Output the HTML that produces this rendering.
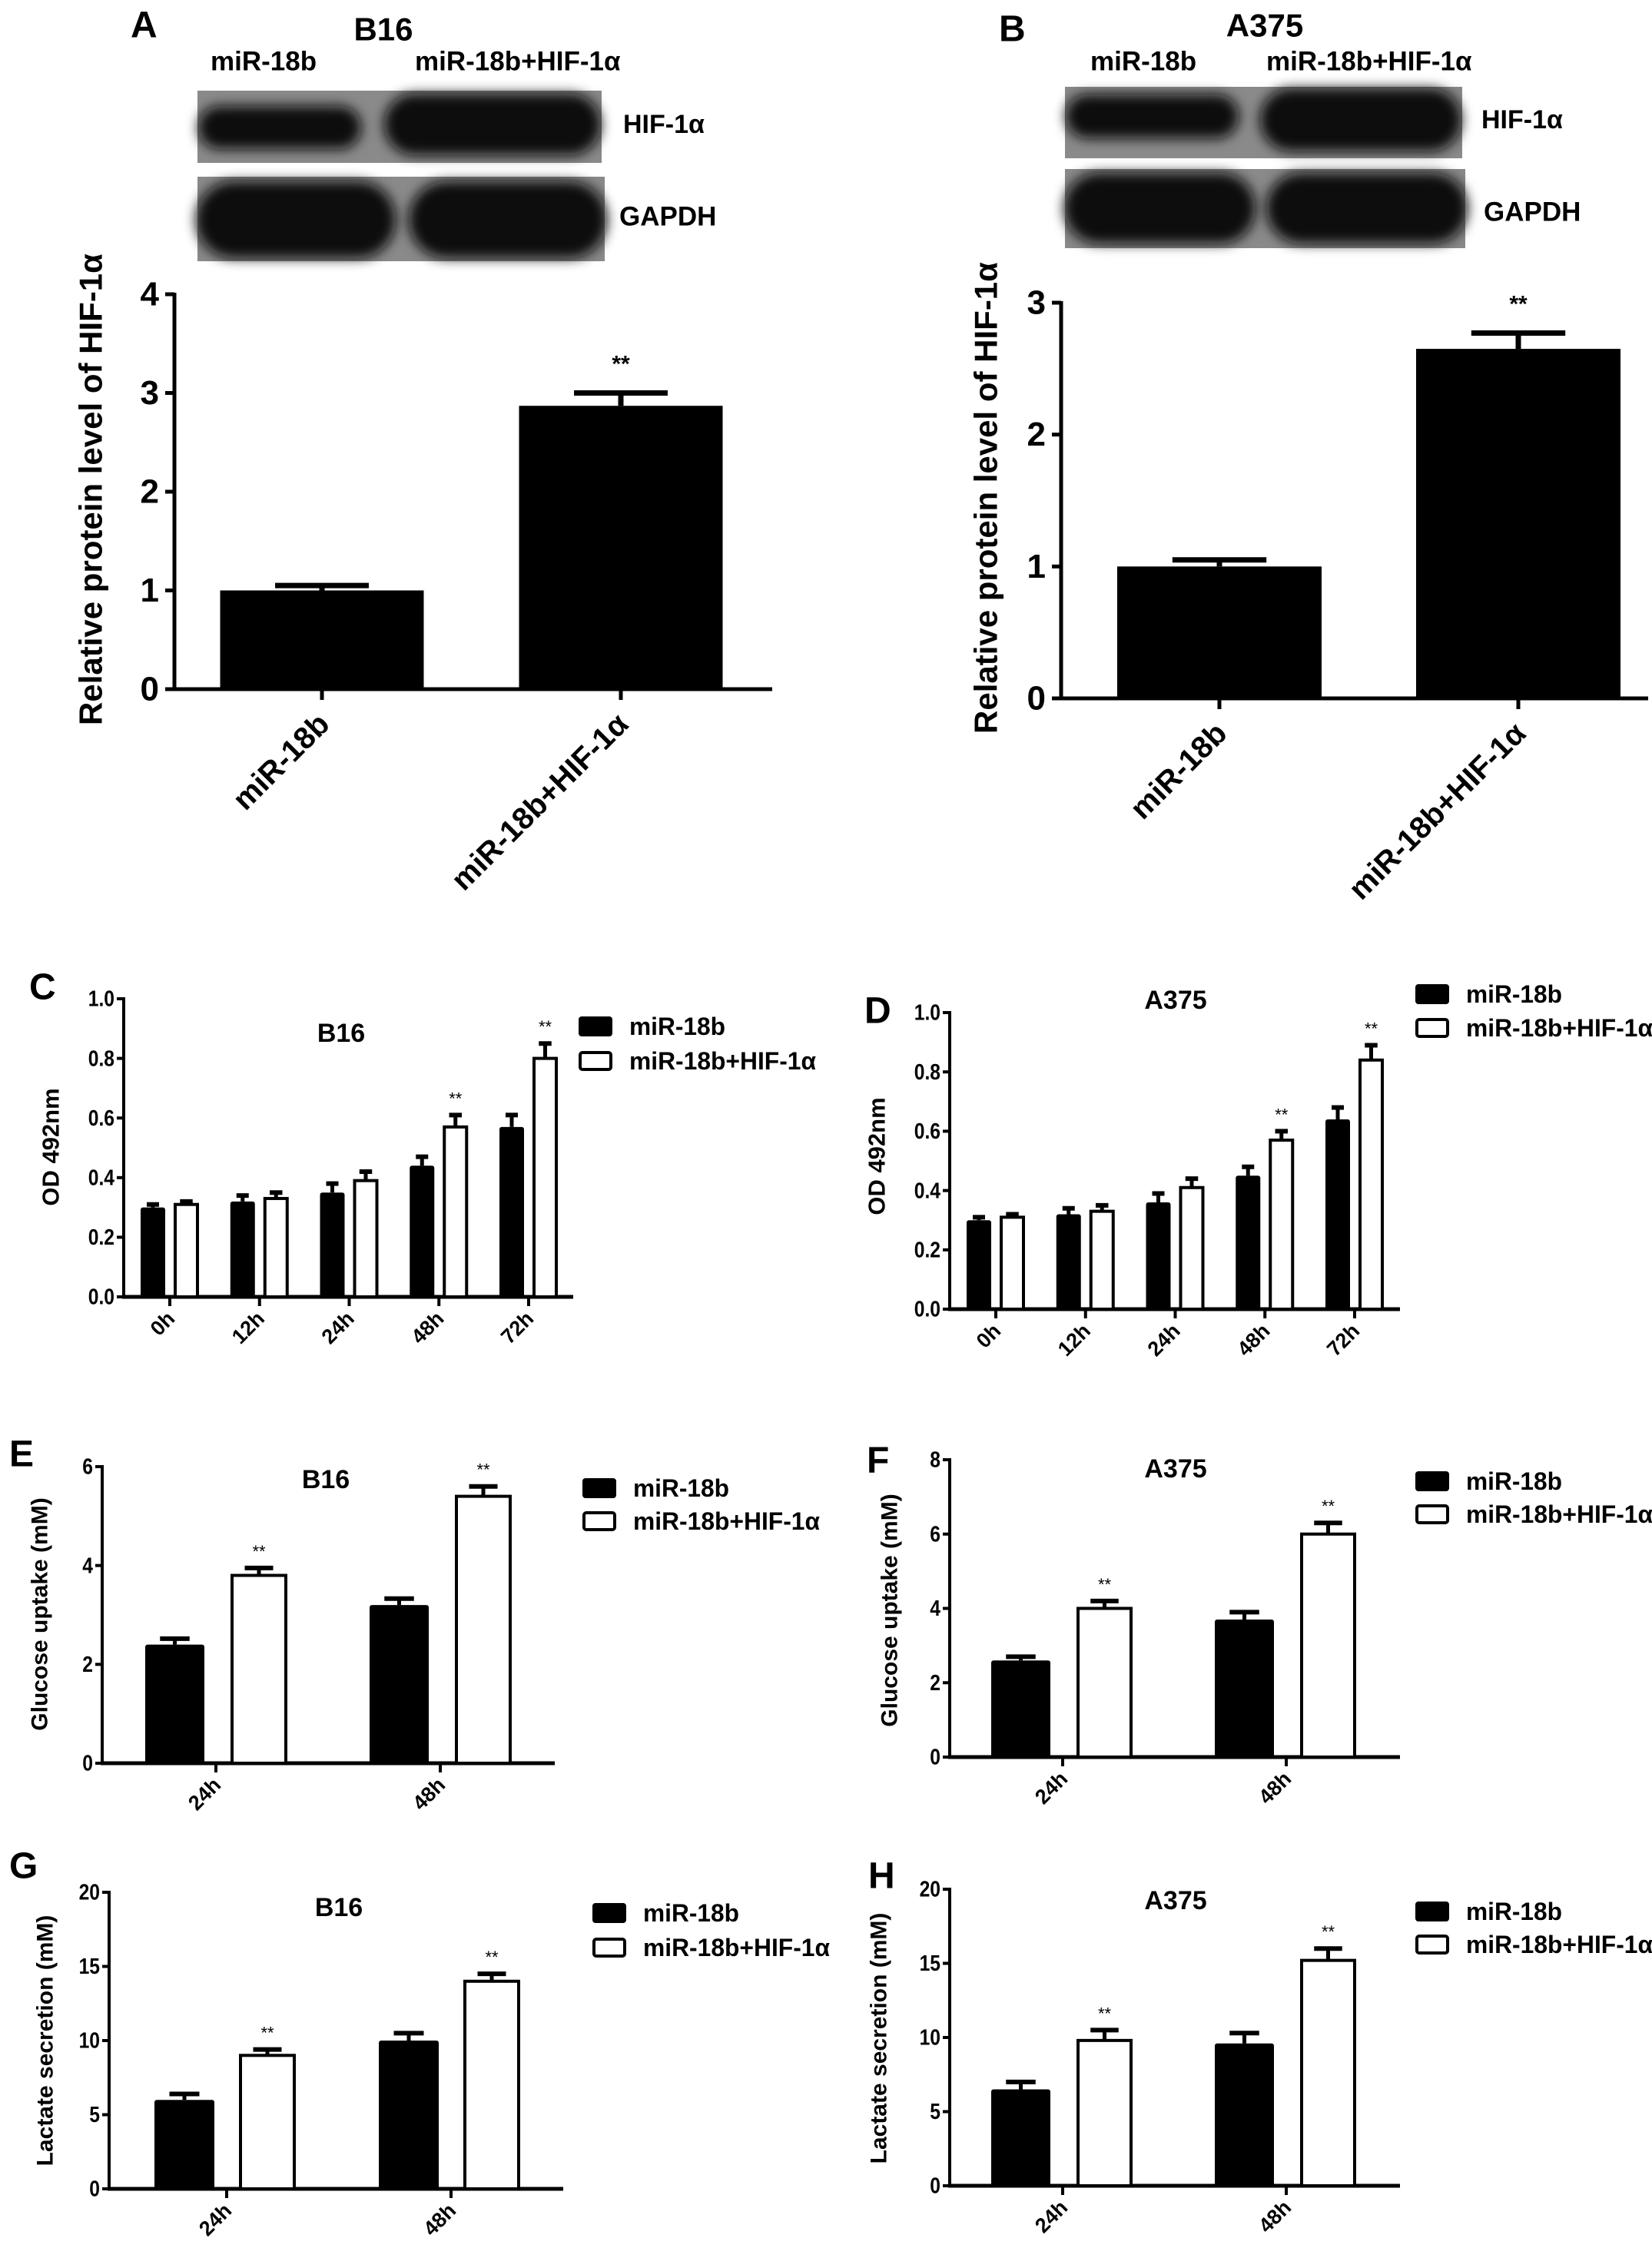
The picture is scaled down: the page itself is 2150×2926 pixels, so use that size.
<!DOCTYPE html>
<html><head><meta charset="utf-8">
<style>
html,body{margin:0;padding:0;background:#fff;}
svg{display:block;font-family:"Liberation Sans",Arial,sans-serif;font-weight:bold;}
</style></head>
<body>
<svg id="fig" width="2150" height="2926" viewBox="0 0 2150 2926" xmlns="http://www.w3.org/2000/svg">
<defs><filter id="blur" x="-20%" y="-40%" width="140%" height="180%"><feGaussianBlur stdDeviation="8"/></filter></defs>
<rect x="0" y="0" width="2150" height="2926" fill="#fff"/>
</svg>
<script>
// ---- data ----
const aCats = ['miR-18b', 'miR-18b+HIF-1α'];
const aVals = [1.0, 2.87];
const aErr = [0.05, 0.13];
const aTicks = [0, 1, 2, 3, 4];

const bCats = ['miR-18b', 'miR-18b+HIF-1α'];
const bVals = [1.0, 2.65];
const bErr = [0.05, 0.12];
const bTicks = [0, 1, 2, 3];

const timeCats5 = ['0h', '12h', '24h', '48h', '72h'];
const odTicks = ['0.0', '0.2', '0.4', '0.6', '0.8', '1.0'];
const cBlack = [0.30, 0.32, 0.35, 0.44, 0.57];
const cBlackErr = [0.01, 0.02, 0.03, 0.03, 0.04];
const cWhite = [0.31, 0.33, 0.39, 0.57, 0.80];
const cWhiteErr = [0.01, 0.02, 0.03, 0.04, 0.05];
const cStars = [false, false, false, true, true];

const dBlack = [0.30, 0.32, 0.36, 0.45, 0.64];
const dBlackErr = [0.01, 0.02, 0.03, 0.03, 0.04];
const dWhite = [0.31, 0.33, 0.41, 0.57, 0.84];
const dWhiteErr = [0.01, 0.02, 0.03, 0.03, 0.05];
const dStars = [false, false, false, true, true];

const timeCats2 = ['24h', '48h'];
const eTicks = ['0', '2', '4', '6'];
const eBlack = [2.4, 3.2];
const eBlackErr = [0.12, 0.13];
const eWhite = [3.8, 5.4];
const eWhiteErr = [0.15, 0.2];
const eStars = [true, true];

const fTicks = ['0', '2', '4', '6', '8'];
const fBlack = [2.6, 3.7];
const fBlackErr = [0.1, 0.2];
const fWhite = [4.0, 6.0];
const fWhiteErr = [0.2, 0.3];
const fStars = [true, true];

const lacTicks = ['0', '5', '10', '15', '20'];
const gBlack = [6.0, 10.0];
const gBlackErr = [0.4, 0.5];
const gWhite = [9.0, 14.0];
const gWhiteErr = [0.4, 0.5];
const gStars = [true, true];

const hBlack = [6.5, 9.6];
const hBlackErr = [0.5, 0.7];
const hWhite = [9.8, 15.2];
const hWhiteErr = [0.7, 0.8];
const hStars = [true, true];

// ---- drawing ----
const NS = 'http://www.w3.org/2000/svg';
const svg = document.getElementById('fig');
function mk(tag, attrs, name, parent) {
  const el = document.createElementNS(NS, tag);
  for (const k in attrs) el.setAttribute(k, attrs[k]);
  
  
  (parent || svg).appendChild(el);
  return el;
}
function txt(x, y, s, size, name, extra) {
  const a = Object.assign({x: x, y: y, 'font-size': size, fill: '#000'}, extra || {});
  const t = mk('text', a, name);
  t.textContent = s;
  return t;
}

function blot(x, y, w, h, bands, name) {
  const g = mk('g', {}, name);
  mk('rect', {x: x, y: y, width: w, height: h, fill: '#8a8a8a'}, name + '-background', g);
  bands.forEach(function (b, i) {
    mk('rect', {x: b[0], y: b[1], width: b[2] - b[0], height: b[3] - b[1], rx: (b[3] - b[1]) / 2, fill: '#0c0c0c', filter: 'url(#blur)'}, name + '-band-' + (i + 1), g);
  });
}

function bigChart(p, cats, vals, errs, ticks) {
  const max = ticks[ticks.length - 1];
  const ys = function (v) { return p.y0 - (v / max) * (p.y0 - p.yTop); };
  mk('line', {x1: p.ax, y1: p.yTop - 2, x2: p.ax, y2: p.y0 + 2, stroke: '#000', 'stroke-width': 5}, p.id + '-y-axis');
  mk('line', {x1: p.ax - 2, y1: p.y0, x2: p.xEnd, y2: p.y0, stroke: '#000', 'stroke-width': 5}, p.id + '-x-axis');
  ticks.forEach(function (t) {
    const y = ys(t);
    mk('line', {x1: p.ax - 12, y1: y, x2: p.ax, y2: y, stroke: '#000', 'stroke-width': 5}, p.id + '-y-tick');
    txt(p.ax - 20, y, String(t), 44, p.id + '-y-tick-label', {'text-anchor': 'end', 'dominant-baseline': 'central'});
  });
  cats.forEach(function (c, i) {
    const cx = p.ticks[i];
    const top = ys(vals[i]);
    const etop = ys(vals[i] + errs[i]);
    mk('line', {x1: cx, y1: top, x2: cx, y2: etop, stroke: '#000', 'stroke-width': 7}, p.id + '-error-bar');
    mk('line', {x1: cx - p.bw * 0.23, y1: etop, x2: cx + p.bw * 0.23, y2: etop, stroke: '#000', 'stroke-width': 7}, p.id + '-error-cap');
    mk('rect', {x: cx - p.bw / 2, y: top, width: p.bw, height: p.y0 - top, fill: '#000'}, p.id + '-bar-' + (i + 1));
    mk('line', {x1: cx, y1: p.y0, x2: cx, y2: p.y0 + 14, stroke: '#000', 'stroke-width': 5}, p.id + '-x-tick');
    txt(0, 0, c, 40, p.id + '-x-tick-label', {'text-anchor': 'end', transform: 'translate(' + (cx + 12) + ',' + (p.y0 + 48) + ') rotate(-45)'});
    if (i === 1) txt(cx, etop - 28, '**', 30, p.id + '-significance', {'text-anchor': 'middle'});
  });
  txt(0, 0, 'Relative protein level of HIF-1α', 42, p.id + '-y-axis-title', {'text-anchor': 'middle', transform: 'translate(' + p.titleX + ',' + p.titleY + ') rotate(-90)', 'dominant-baseline': 'central'});
}

function groupChart(p, cats, blk, blkE, wht, whtE, stars, tickLabels, ytitle, title) {
  const max = parseFloat(tickLabels[tickLabels.length - 1]);
  const ys = function (v) { return p.y0 - (v / max) * (p.y0 - p.yTop); };
  mk('line', {x1: p.ax, y1: p.yTop - 2, x2: p.ax, y2: p.y0 + 2, stroke: '#000', 'stroke-width': 4}, p.id + '-y-axis');
  mk('line', {x1: p.ax - 2, y1: p.y0, x2: p.xEnd, y2: p.y0, stroke: '#000', 'stroke-width': 5}, p.id + '-x-axis');
  tickLabels.forEach(function (t) {
    const y = ys(parseFloat(t));
    mk('line', {x1: p.ax - 9, y1: y, x2: p.ax, y2: y, stroke: '#000', 'stroke-width': 4}, p.id + '-y-tick');
    const tl = txt(0, 0, t, 29, p.id + '-y-tick-label', {'text-anchor': 'end', 'dominant-baseline': 'central', transform: 'translate(' + (p.ax - 12) + ',' + y + ') scale(0.85,1)'});
  });
  cats.forEach(function (c, i) {
    const cx = p.first + i * p.step;
    const bt = ys(blk[i]), be = ys(blk[i] + blkE[i]);
    const bx0 = cx + p.b[0], bx1 = cx + p.b[1], bmid = (bx0 + bx1) / 2, bw = bx1 - bx0;
    mk('line', {x1: bmid, y1: bt, x2: bmid, y2: be, stroke: '#000', 'stroke-width': 5}, p.id + '-error-bar-black');
    mk('line', {x1: bmid - bw * 0.25, y1: be, x2: bmid + bw * 0.25, y2: be, stroke: '#000', 'stroke-width': 6}, p.id + '-error-cap-black');
    mk('rect', {x: bx0, y: bt, width: bw, height: p.y0 - bt, fill: '#000', rx: 3}, p.id + '-bar-mir18b-' + c);
    const wt = ys(wht[i]), we = ys(wht[i] + whtE[i]);
    const wx0 = cx + p.w[0], wx1 = cx + p.w[1], wmid = (wx0 + wx1) / 2, ww = wx1 - wx0;
    mk('line', {x1: wmid, y1: wt, x2: wmid, y2: we, stroke: '#000', 'stroke-width': 5}, p.id + '-error-bar-white');
    mk('line', {x1: wmid - ww * 0.25, y1: we, x2: wmid + ww * 0.25, y2: we, stroke: '#000', 'stroke-width': 6}, p.id + '-error-cap-white');
    mk('rect', {x: wx0 + 2, y: wt, width: ww - 4, height: p.y0 - wt, fill: '#fff', stroke: '#000', 'stroke-width': 4}, p.id + '-bar-hif-' + c);
    if (stars[i]) txt(wmid, we - 14, '**', 22, p.id + '-significance', {'text-anchor': 'middle', 'font-weight': 'normal'});
    mk('line', {x1: cx, y1: p.y0, x2: cx, y2: p.y0 + 12, stroke: '#000', 'stroke-width': 4}, p.id + '-x-tick');
    txt(0, 0, c, 27, p.id + '-x-tick-label', {'text-anchor': 'end', transform: 'translate(' + (cx + 8) + ',' + (p.y0 + 30) + ') rotate(-45)'});
  });
  txt(0, 0, ytitle, p.ytSize, p.id + '-y-axis-title', {'text-anchor': 'middle', transform: 'translate(' + p.ytX + ',' + p.ytY + ') rotate(-90)', 'dominant-baseline': 'central'});
  txt(p.tX, p.tY, title, 34, p.id + '-title', {'text-anchor': 'middle', 'dominant-baseline': 'central'});
  mk('rect', {x: p.lx, y: p.l1, width: 44, height: 26, rx: 4, fill: '#000'}, p.id + '-legend-swatch-mir18b');
  txt(p.lx + 66, p.l1 + 13, 'miR-18b', 32, p.id + '-legend-entry-mir18b', {'dominant-baseline': 'central', textLength: 125, lengthAdjust: 'spacingAndGlyphs'});
  mk('rect', {x: p.lx + 2, y: p.l2 + 2, width: 40, height: 22, rx: 3, fill: '#fff', stroke: '#000', 'stroke-width': 4}, p.id + '-legend-swatch-hif');
  txt(p.lx + 66, p.l2 + 13, 'miR-18b+HIF-1α', 32, p.id + '-legend-entry-hif', {'dominant-baseline': 'central', textLength: 243, lengthAdjust: 'spacingAndGlyphs'});
  txt(p.letX, p.letY, p.letter, 48, p.id + '-panel-label', {'dominant-baseline': 'central'});
}

// Panel A
txt(170, 33, 'A', 48, 'panel-a-label', {'dominant-baseline': 'central'});
txt(499, 38, 'B16', 42, 'panel-a-cell-line', {'text-anchor': 'middle', 'dominant-baseline': 'central'});
txt(274, 80, 'miR-18b', 35, 'panel-a-lane-label-1', {'dominant-baseline': 'central'});
txt(540, 80, 'miR-18b+HIF-1α', 35, 'panel-a-lane-label-2', {'dominant-baseline': 'central'});
blot(257, 118, 526, 94, [[258, 138, 470, 194], [500, 122, 782, 202]], 'panel-a-hif-blot');
blot(257, 230, 530, 110, [[255, 236, 515, 336], [532, 236, 790, 336]], 'panel-a-gapdh-blot');
txt(811, 162, 'HIF-1α', 34, 'panel-a-hif-label', {'dominant-baseline': 'central'});
txt(806, 282, 'GAPDH', 35, 'panel-a-gapdh-label', {'dominant-baseline': 'central'});
bigChart({id: 'panel-a', ax: 227, xEnd: 1005, y0: 897, yTop: 383, ticks: [419, 808], bw: 265, titleX: 118, titleY: 637}, aCats, aVals, aErr, aTicks);

// Panel B
txt(1300, 38, 'B', 48, 'panel-b-label', {'dominant-baseline': 'central'});
txt(1646, 33, 'A375', 42, 'panel-b-cell-line', {'text-anchor': 'middle', 'dominant-baseline': 'central'});
txt(1419, 80, 'miR-18b', 35, 'panel-b-lane-label-1', {'dominant-baseline': 'central'});
txt(1648, 80, 'miR-18b+HIF-1α', 35, 'panel-b-lane-label-2', {'dominant-baseline': 'central'});
blot(1386, 113, 517, 93, [[1387, 123, 1612, 180], [1640, 115, 1902, 197]], 'panel-b-hif-blot');
blot(1386, 220, 521, 103, [[1385, 225, 1634, 317], [1648, 225, 1910, 317]], 'panel-b-gapdh-blot');
txt(1928, 156, 'HIF-1α', 34, 'panel-b-hif-label', {'dominant-baseline': 'central'});
txt(1931, 276, 'GAPDH', 35, 'panel-b-gapdh-label', {'dominant-baseline': 'central'});
bigChart({id: 'panel-b', ax: 1381, xEnd: 2145, y0: 909, yTop: 394, ticks: [1587, 1976], bw: 266, titleX: 1283, titleY: 648}, bCats, bVals, bErr, bTicks);

// Panels C-H
groupChart({id: 'panel-c', letter: 'C', letX: 38, letY: 1285, ax: 161, xEnd: 746, y0: 1688, yTop: 1300, first: 221, step: 116.75, b: [-38, -6], w: [5, 38], ytX: 66, ytY: 1493, ytSize: 31, tX: 444, tY: 1345, lx: 753, l1: 1323, l2: 1368}, timeCats5, cBlack, cBlackErr, cWhite, cWhiteErr, cStars, odTicks, 'OD 492nm', 'B16');
groupChart({id: 'panel-d', letter: 'D', letX: 1125, letY: 1316, ax: 1236, xEnd: 1822, y0: 1704, yTop: 1318, first: 1296, step: 116.75, b: [-38, -6], w: [5, 38], ytX: 1141, ytY: 1505, ytSize: 31, tX: 1530, tY: 1302, lx: 1842, l1: 1281, l2: 1325}, timeCats5, dBlack, dBlackErr, dWhite, dWhiteErr, dStars, odTicks, 'OD 492nm', 'A375');
groupChart({id: 'panel-e', letter: 'E', letX: 12, letY: 1893, ax: 133, xEnd: 722, y0: 2295, yTop: 1909, first: 281, step: 292, b: [-92, -15], w: [19, 93], ytX: 52, ytY: 2101, ytSize: 30, tX: 424, tY: 1926, lx: 758, l1: 1924, l2: 1967}, timeCats2, eBlack, eBlackErr, eWhite, eWhiteErr, eStars, eTicks, 'Glucose uptake (mM)', 'B16');
groupChart({id: 'panel-f', letter: 'F', letX: 1128, letY: 1901, ax: 1236, xEnd: 1822, y0: 2287, yTop: 1900, first: 1383, step: 291, b: [-93, -16], w: [18, 91], ytX: 1158, ytY: 2096, ytSize: 30, tX: 1530, tY: 1912, lx: 1842, l1: 1915, l2: 1958}, timeCats2, fBlack, fBlackErr, fWhite, fWhiteErr, fStars, fTicks, 'Glucose uptake (mM)', 'A375');
groupChart({id: 'panel-g', letter: 'G', letX: 12, letY: 2429, ax: 142, xEnd: 733, y0: 2849, yTop: 2463, first: 295, step: 292, b: [-94, -16], w: [16, 90], ytX: 59, ytY: 2656, ytSize: 30, tX: 441, tY: 2483, lx: 771, l1: 2477, l2: 2522}, timeCats2, gBlack, gBlackErr, gWhite, gWhiteErr, gStars, lacTicks, 'Lactate secretion (mM)', 'B16');
groupChart({id: 'panel-h', letter: 'H', letX: 1130, letY: 2442, ax: 1236, xEnd: 1822, y0: 2845, yTop: 2459, first: 1383, step: 291, b: [-93, -16], w: [18, 91], ytX: 1144, ytY: 2653, ytSize: 30, tX: 1530, tY: 2474, lx: 1842, l1: 2475, l2: 2518}, timeCats2, hBlack, hBlackErr, hWhite, hWhiteErr, hStars, lacTicks, 'Lactate secretion (mM)', 'A375');
</script>
</body></html>
